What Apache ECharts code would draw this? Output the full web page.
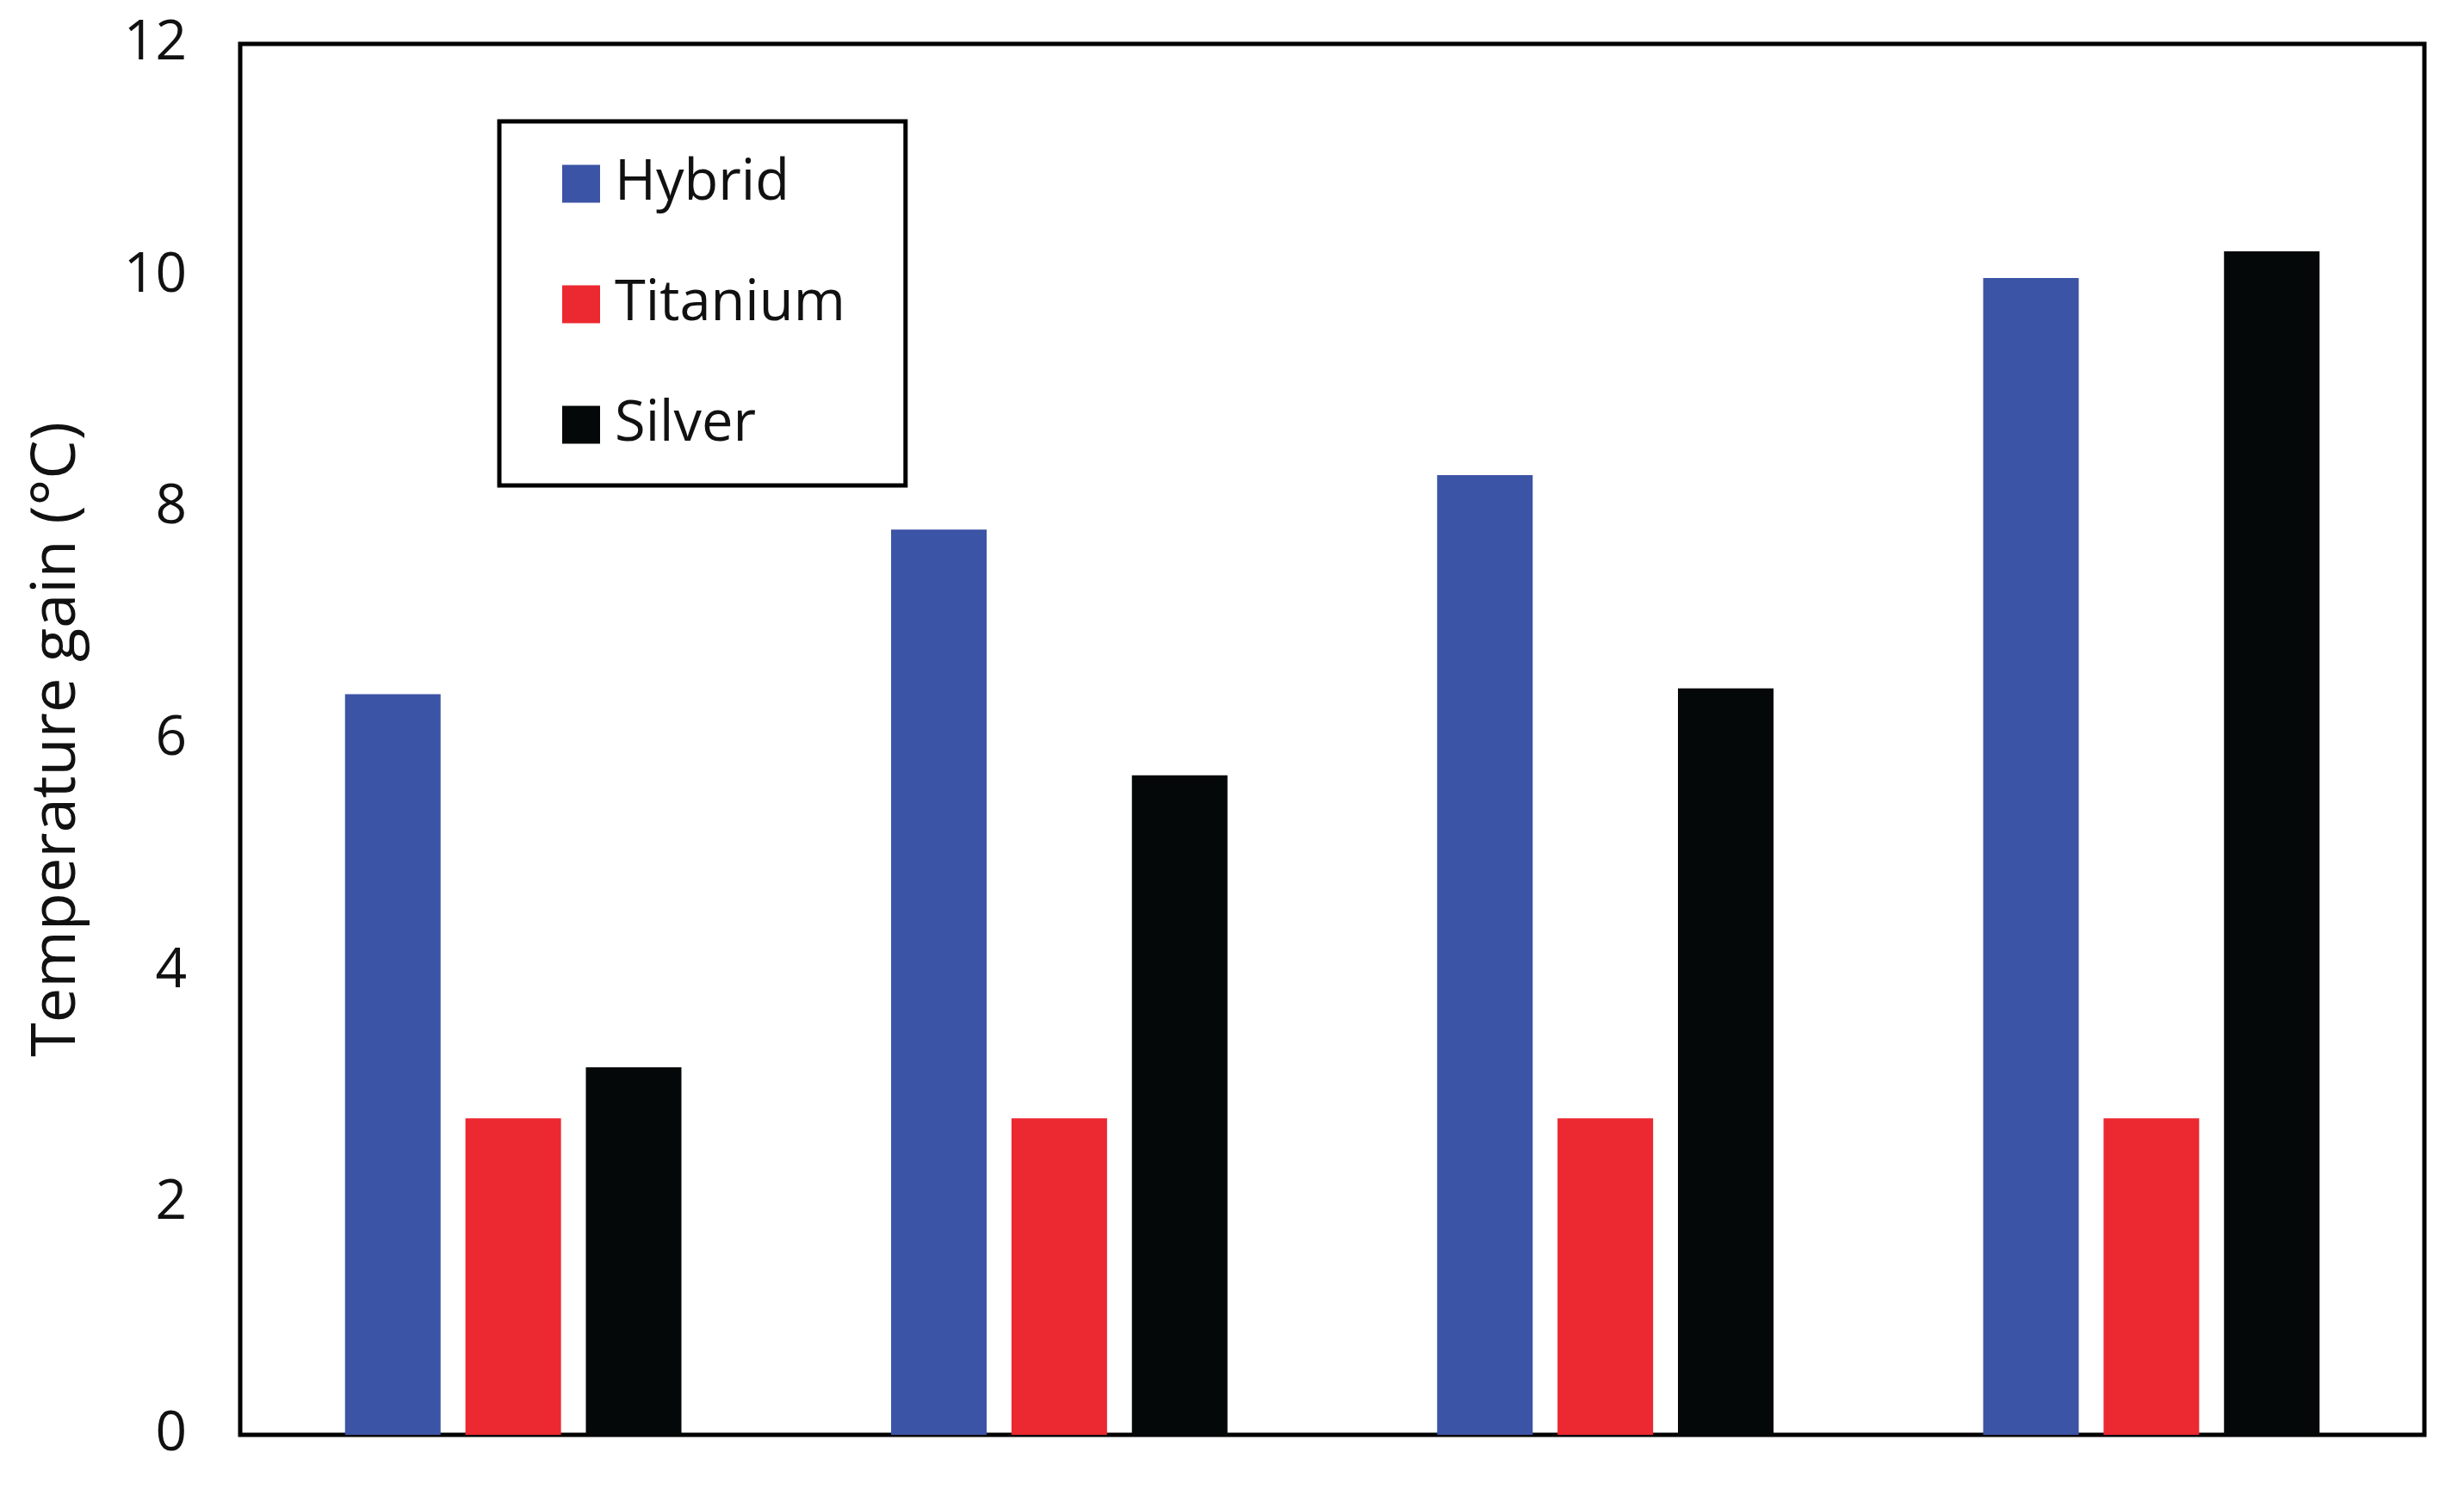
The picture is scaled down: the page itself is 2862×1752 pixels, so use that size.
<!DOCTYPE html>
<html>
<head>
<meta charset="utf-8">
<script src="https://cdn.jsdelivr.net/npm/echarts@6/dist/echarts.min.js"></script>
<style>html,body{margin:0;padding:0;background:#fff;}#c{width:2862px;height:1752px;}</style>
</head>
<body>
<div id="c"></div>
<script>
const categories = ['Case 1', 'Case 2', 'Case 3', 'Case 4'];
const hybrid = [6.39, 7.81, 8.28, 9.98];
const titanium = [2.73, 2.73, 2.73, 2.73];
const silver = [3.17, 5.69, 6.44, 10.21];
const seriesNames = ['Hybrid', 'Titanium', 'Silver'];
const colors = ['#3C54A5', '#EC2830', '#050808'];
const yTitle = 'Temperature gain (°C)';

const font = 'Open Sans';
const chart = echarts.init(document.getElementById('c'));
const datasets = [hybrid, titanium, silver];
chart.setOption({
  animation: false,
  backgroundColor: '#fff',
  textStyle: { fontFamily: font },
  grid: { left: 279, right: 46, top: 51, bottom: 85, show: true, borderColor: '#000', borderWidth: 5 },
  legend: {
    orient: 'vertical', left: 580, top: 141,
    data: seriesNames,
    icon: 'rect', itemWidth: 44, itemHeight: 44, itemGap: 75,
    padding: [40, 70, 38, 73],
    borderColor: '#000', borderWidth: 5,
    backgroundColor: '#fff',
    textStyle: { fontSize: 65, color: '#111', fontFamily: font, lineHeight: 60, padding: [0, 0, 0, 12] }
  },
  xAxis: {
    type: 'category', data: categories,
    axisLine: { show: false }, axisTick: { show: false }, axisLabel: { show: false }
  },
  yAxis: {
    type: 'value', min: 0, max: 12, interval: 2,
    name: yTitle, nameLocation: 'middle', nameGap: 177,
    nameTextStyle: { fontSize: 72, color: '#111', fontFamily: font },
    axisLine: { show: false }, axisTick: { show: false }, splitLine: { show: false },
    axisLabel: { fontSize: 64, color: '#111', margin: 62, fontFamily: font }
  },
  series: seriesNames.map((n, i) => ({
    name: n, type: 'bar', data: datasets[i],
    barWidth: 111, barGap: '26%',
    itemStyle: { color: colors[i] }
  }))
});
</script>
</body>
</html>
